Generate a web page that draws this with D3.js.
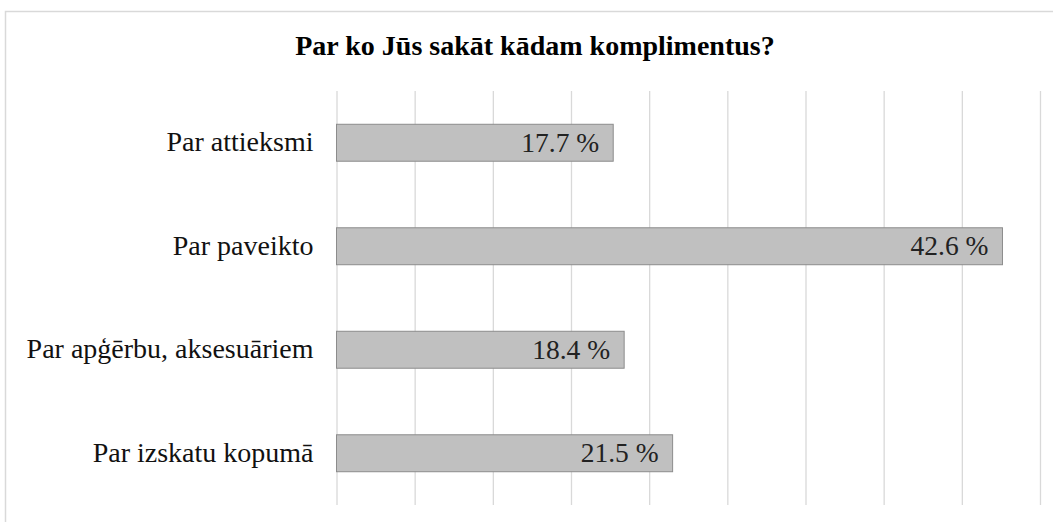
<!DOCTYPE html>
<html>
<head>
<meta charset="utf-8">
<script src="https://cdnjs.cloudflare.com/ajax/libs/d3/7.8.5/d3.min.js"></script>
<style>
body { margin: 0; background: #fff; }
svg { display: block; }
.grid line { stroke: #d9d9d9; stroke-width: 1.3; }
.grid path { stroke-width: 0; }
rect.bar { fill: #c0c0c0; stroke: #8c8c8c; stroke-width: 1; }
text { font-family: "Liberation Serif", "Times New Roman", serif; }
text.cat { font-size: 28px; fill: #111; }
text.val { font-size: 27.5px; fill: #222; }
text.title { font-size: 28px; font-weight: bold; fill: #000; }
</style>
</head>
<body>
<div id="chart"></div>
<script>
// data
var categories = ["Par attieksmi", "Par paveikto", "Par apģērbu, aksesuāriem", "Par izskatu kopumā"];
var values = [17.7, 42.6, 18.4, 21.5];
var xTicks = [0, 5, 10, 15, 20, 25, 30, 35, 40, 45];
var title = "Par ko Jūs sakāt kādam komplimentus?";

var width = 1053, height = 522;
var margin = {top: 91, right: 13, bottom: 17, left: 336.5};

var svg = d3.select("#chart").append("svg")
    .attr("width", width)
    .attr("height", height);

// chart frame (runs off the right and bottom edge)
svg.append("rect")
    .attr("x", 5.5).attr("y", 11.5)
    .attr("width", 1100).attr("height", 600)
    .attr("fill", "none")
    .attr("stroke", "#d9d9d9")
    .attr("stroke-width", 1.5);

var x = d3.scaleLinear().domain([0, 45]).range([margin.left, width - margin.right]);
var y = d3.scaleBand().domain(categories)
    .range([margin.top, height - margin.bottom])
    .paddingInner(0.643).paddingOuter(0.3215);

svg.append("g")
    .attr("class", "grid")
    .attr("transform", "translate(0," + (height - margin.bottom) + ")")
    .call(d3.axisBottom(x).tickValues(xTicks)
        .tickSize(-(height - margin.bottom - margin.top))
        .tickFormat(""));

var rows = svg.append("g").selectAll("g")
    .data(categories)
    .join("g");

rows.append("rect")
    .attr("class", "bar")
    .attr("x", x(0))
    .attr("y", function(d) { return y(d); })
    .attr("width", function(d, i) { return x(values[i]) - x(0); })
    .attr("height", y.bandwidth());

rows.append("text")
    .attr("class", "val")
    .attr("x", function(d, i) { return x(values[i]) - 14; })
    .attr("y", function(d) { return y(d) + y.bandwidth() / 2; })
    .attr("dy", "0.33em")
    .attr("text-anchor", "end")
    .text(function(d, i) { return values[i].toFixed(1) + " %"; });

rows.append("text")
    .attr("class", "cat")
    .attr("x", margin.left - 23)
    .attr("y", function(d) { return y(d) + y.bandwidth() / 2; })
    .attr("dy", "0.3em")
    .attr("text-anchor", "end")
    .text(function(d) { return d; });

svg.append("text")
    .attr("class", "title")
    .attr("x", 535)
    .attr("y", 55)
    .attr("text-anchor", "middle")
    .text(title);
</script>
</body>
</html>
